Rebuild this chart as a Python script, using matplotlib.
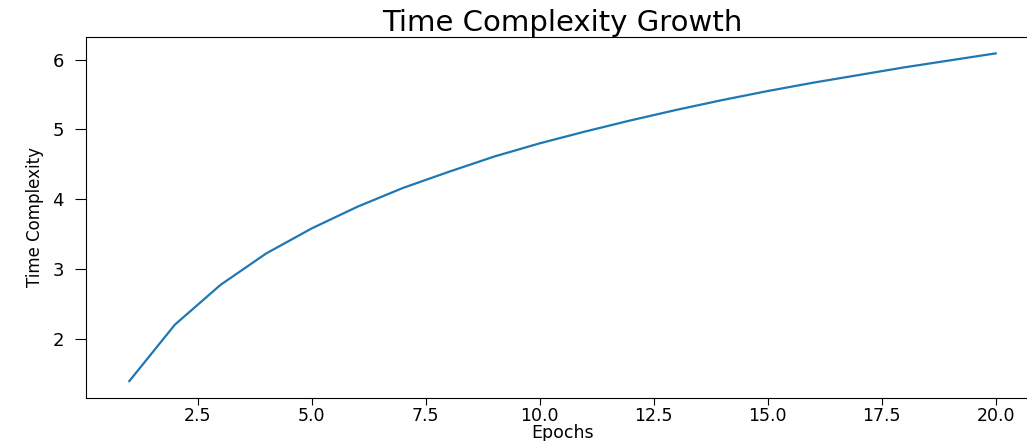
import matplotlib
matplotlib.use("Agg")
import matplotlib.pyplot as plt

epochs = list(range(1, 21))
complexity = [1.39, 2.20, 2.77, 3.22, 3.58, 3.89, 4.16, 4.39, 4.61, 4.80,
              4.97, 5.13, 5.28, 5.42, 5.55, 5.67, 5.78, 5.89, 5.99, 6.09]

TITLE = "Time Complexity Growth"
X_LABEL = "Epochs"
Y_LABEL = "Time Complexity"

fig = plt.figure(figsize=(10.27, 4.41), dpi=100)
# the reference is a crop: the right spine sits outside the picture
ax = fig.add_axes([86 / 1027, 43.5 / 441, 953 / 1027, 360.5 / 441])

ax.plot(epochs, complexity, color="#1f77b4", lw=1.6)

ax.set_title(TITLE, fontsize=21, pad=4)
ax.set_xlabel(X_LABEL, fontsize=12.5, labelpad=-1)
ax.set_ylabel(Y_LABEL, fontsize=12, labelpad=6,
              family=["Liberation Sans Narrow", "DejaVu Sans"])

ax.tick_params(axis="x", labelsize=12.5, length=5, pad=2)
ax.tick_params(axis="y", labelsize=13, length=8, pad=8)

fig.savefig("out.png", dpi=100)
